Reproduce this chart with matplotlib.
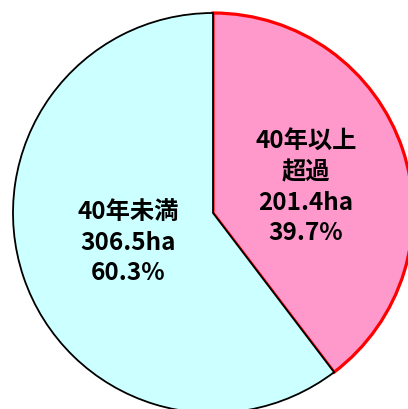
import matplotlib.pyplot as plt

plt.rcParams['font.family'] = ['Noto Sans CJK JP', 'DejaVu Sans']

# data
labels = ["40年以上\n超過", "40年未満"]
areas = [201.4, 306.5]          # ha
shares = [39.7, 60.3]           # %
fills = ["#FF99CC", "#CCFFFF"]
edges = ["#FF0000", "#000000"]

W, H = 408, 409
fig = plt.figure(figsize=(W / 100, H / 100), dpi=100)
ax = fig.add_axes([0, 0, 1, 1])

cx, cy, r = 213, H - 213, 200
wedges, _ = ax.pie(areas, colors=fills, startangle=90, counterclock=False,
                   center=(cx, cy), radius=r)
for w, ec, lw, z in zip(wedges, edges, [2.3, 1.3], [2, 3]):
    w.set_edgecolor(ec)
    w.set_linewidth(lw)
    w.set_zorder(z)

ax.set_xlim(0, W)
ax.set_ylim(0, H)
ax.axis("off")

# labels, one line at a time
pos = [(306, H - 142), (128, H - 212)]
for lab, a, s, (x, y) in zip(labels, areas, shares, pos):
    lines = lab.split("\n") + [f"{a}ha", f"{s}%"]
    for i, t in enumerate(lines):
        ax.text(x, y - i * 30.5, t, ha="center", va="center", fontsize=17.5,
                fontweight="bold", color="black", zorder=5)

fig.savefig("out.png", dpi=100)
